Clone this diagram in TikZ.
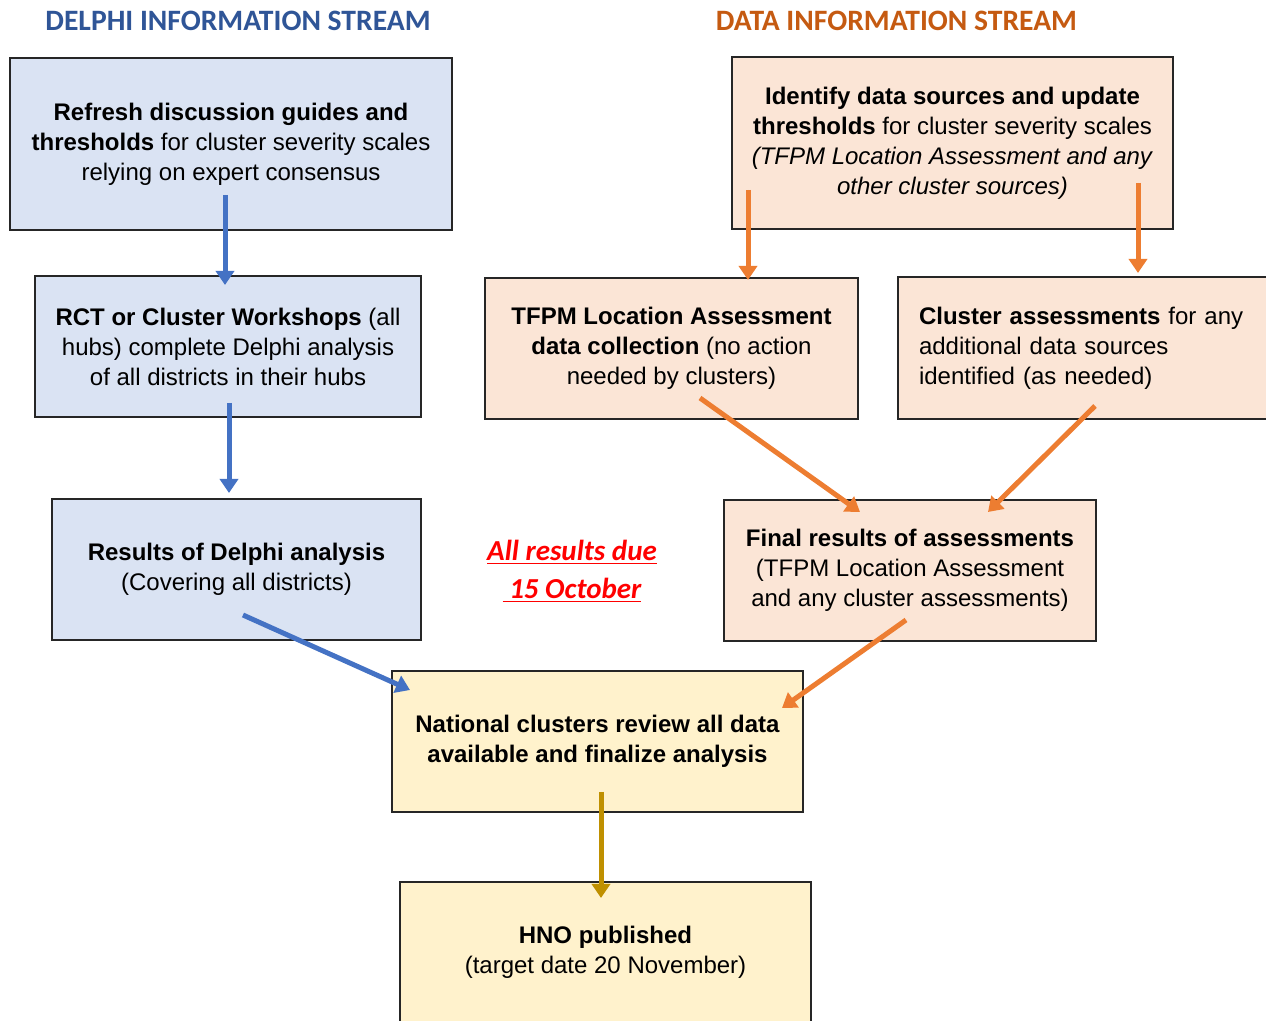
\documentclass[tikz,border=0pt]{standalone}
\usepackage{fontspec}
\setmainfont{Liberation Sans}
\newfontfamily\calibri{Carlito}
\usetikzlibrary{arrows.meta}
\definecolor{bfill}{HTML}{DAE3F3}
\definecolor{ofill}{HTML}{FBE5D6}
\definecolor{yfill}{HTML}{FFF2CC}
\definecolor{barrow}{HTML}{4472C4}
\definecolor{oarrow}{HTML}{ED7D31}
\definecolor{garrow}{HTML}{BF9000}
\definecolor{btitle}{HTML}{2F5597}
\definecolor{otitle}{HTML}{C55A11}
\definecolor{redtxt}{HTML}{FF0000}
\begin{document}
\begin{tikzpicture}[x=0.5pt,y=-0.5pt,
  box/.style={draw=black!85, line width=0.75pt, align=center, inner sep=0pt,
    font=\fontsize{12}{15}\selectfont},
  bluebox/.style={box, fill=bfill},
  orangebox/.style={box, fill=ofill},
  yellowbox/.style={box, fill=yfill},
  title/.style={font=\calibri\bfseries\fontsize{14.8}{17}\selectfont, inner sep=0pt},
  arr/.style={line width=2.5pt, -{Triangle[width=9pt,length=7pt]}},
  barr/.style={arr, draw=barrow, fill=barrow},
  oarr/.style={arr, draw=oarrow, fill=oarrow},
  garr/.style={arr, draw=garrow, fill=garrow}]
\useasboundingbox (0,0) rectangle (1266,1021);

% titles
\node[title, text=btitle] (t1) at (238,21) {DELPHI INFORMATION STREAM};
\node[title, text=otitle] (t2) at (896.5,21) {DATA INFORMATION STREAM};

% Delphi stream
\node[bluebox, minimum width=221pt, minimum height=86pt] (b1) at (231,144)
  {\textbf{Refresh discussion guides and}\\ \textbf{thresholds} for cluster severity scales\\ relying on expert consensus};
\node[bluebox, minimum width=193pt, minimum height=70.5pt] (b2) at (228,346.5)
  {\textbf{RCT or Cluster Workshops} (all\\ hubs) complete Delphi analysis\\ of all districts in their hubs};
\node[bluebox, minimum width=184.5pt, minimum height=70.5pt] (b3) at (236.5,569.5)
  {\textbf{Results of Delphi analysis}\\ (Covering all districts)};

% Data stream
\node[orangebox, minimum width=220.5pt, minimum height=86pt] (d1) at (952.5,143)
  {\textbf{Identify data sources and update}\\ \textbf{thresholds} for cluster severity scales\\ \textit{(TFPM Location Assessment and any}\\ \textit{other cluster sources)}};
\node[orangebox, minimum width=186.5pt, minimum height=70.5pt] (d2) at (671.5,348.5)
  {\textbf{TFPM Location Assessment}\\ \textbf{data collection} (no action\\ needed by clusters)};
\node[orangebox, text width=170pt, inner xsep=10.5pt, align=left, minimum height=71pt] (d3) at (1089,348)
  {\textbf{Cluster assessments} for any\\ additional data sources\\ identified (as needed)};
\node[orangebox, minimum width=186pt, minimum height=70.5pt] (d4) at (910,570.5)
  {\textbf{Final results of assessments}\\ (TFPM Location Assessment\\ and any cluster assessments)};

% due date
\node[font=\calibri\bfseries\itshape\fontsize{14.5}{19}\selectfont, text=redtxt, align=center, inner sep=0pt] (due) at (572,571)
  {\underline{All results due}\\ \underline{\ 15 October}};

% joint
\node[yellowbox, minimum width=205.5pt, minimum height=70.5pt] (n) at (597.5,741.5)
  {\textbf{National clusters review all data}\\ \textbf{available and finalize analysis}};
\node[yellowbox, minimum width=205.5pt, minimum height=70.5pt] (h) at (605.5,952.5)
  {\textbf{HNO published}\\ (target date 20 November)};

% arrow end points
\coordinate (b1s) at (225,195);  \coordinate (b2n) at (225,285);
\coordinate (b2s) at (229,403);  \coordinate (b3n) at (229,493);
\coordinate (b3s) at (243,615);  \coordinate (nnw) at (410,690);
\coordinate (d1l) at (748,190);  \coordinate (d2n) at (748,280);
\coordinate (d1r) at (1138,183); \coordinate (d3n) at (1138,273);
\coordinate (d2s) at (700,398);  \coordinate (d4l) at (860,512);
\coordinate (d3s) at (1095,406); \coordinate (d4r) at (988,512);
\coordinate (d4s) at (906,620);  \coordinate (nne) at (782,708);
\coordinate (ns) at (601,792);   \coordinate (hn) at (601,898);

\draw[barr] (b1s) -- (b2n);
\draw[barr] (b2s) -- (b3n);
\draw[barr] (b3s) -- (nnw);
\draw[oarr] (d1l) -- (d2n);
\draw[oarr] (d1r) -- (d3n);
\draw[oarr] (d2s) -- (d4l);
\draw[oarr] (d3s) -- (d4r);
\draw[oarr] (d4s) -- (nne);
\draw[garr] (ns) -- (hn);
\end{tikzpicture}
\end{document}
